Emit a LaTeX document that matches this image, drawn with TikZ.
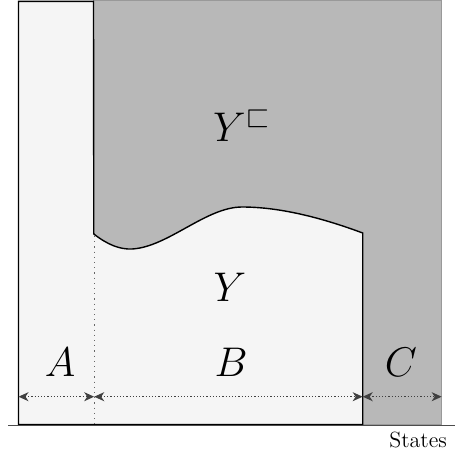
\documentclass[tikz,border=0pt]{standalone}
\usepackage{amssymb}
\usetikzlibrary{arrows.meta}
\begin{document}
\begin{tikzpicture}[x=0.5pt,y=-0.5pt,
  lightfill/.style={fill=black!4},
  darkfill/.style={fill=black!28},
  outline/.style={draw=black,line width=0.7pt},
  dimline/.style={draw=black!75,densely dotted,line width=0.6pt,{Stealth[length=5pt,width=4.5pt,inset=1.5pt]}-{Stealth[length=5pt,width=4.5pt,inset=1.5pt]}},
  biglabel/.style={font=\fontsize{22}{26}\selectfont},
  smalllabel/.style={font=\fontsize{11}{13}\selectfont}]
\useasboundingbox (0,0) rectangle (455,455);
% gray background region
\fill[darkfill,draw=black!40,line width=0.6pt] (93.5,0.5) rectangle (441.7,424.5);
% light region Y and A column
\path[lightfill,outline] (18.5,424.5) -- (18.5,1.3) -- (93.5,1.3) -- (93.8,234)
  .. controls (108,245) and (120,249.5) .. (132,249)
  .. controls (168,247) and (206,207) .. (242,207)
  .. controls (282,207) and (325,219) .. (362.7,233)
  -- (362.7,424.5) -- cycle;
% axis
\coordinate (ax0) at (8,425.5);
\coordinate (ax1) at (455,425.5);
\draw[black!70,line width=0.6pt] (ax0) -- (ax1);
% dotted divider
\coordinate (dv0) at (94.7,236);
\coordinate (dv1) at (94.7,424);
\draw[black!60,dotted,line width=0.6pt] (dv0) -- (dv1);
% dimension points
\coordinate (p0) at (18.5,396.7);
\coordinate (p1) at (94.2,396.7);
\coordinate (p2) at (362.7,396.7);
\coordinate (p3) at (441.7,396.7);
\draw[dimline] (p0) -- (p1);
\draw[dimline] (p1) -- (p2);
\draw[dimline] (p2) -- (p3);
% labels
\node[biglabel] (la) at (60,362) {$A$};
\node[biglabel] (lb) at (231,362) {$B$};
\node[biglabel] (lc) at (401,362) {$C$};
\node[biglabel] (ly) at (230,287) {$Y$};
\node[biglabel] (lyc) at (242,126) {$Y^{\sqsubset}$};
\node[smalllabel,anchor=east] (st) at (454,440) {States};
\end{tikzpicture}
\end{document}
